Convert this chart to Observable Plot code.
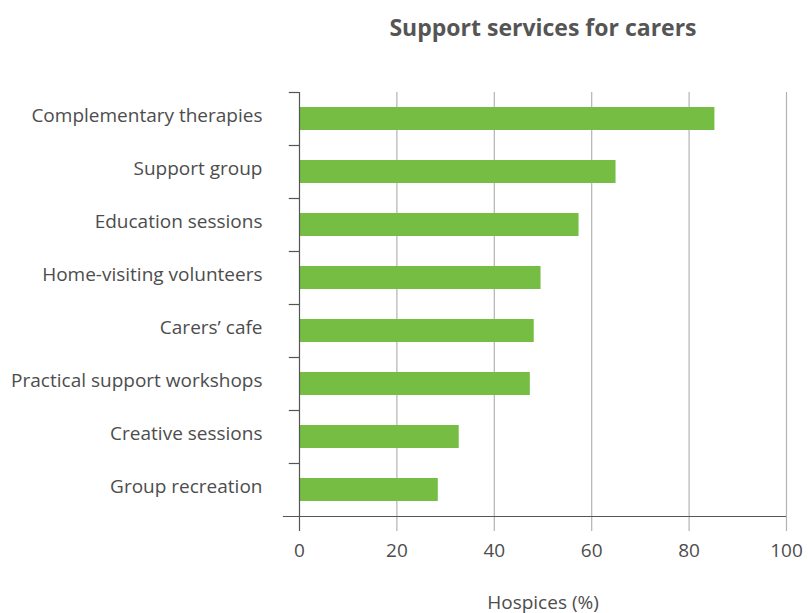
<!DOCTYPE html>
<html>
<head>
<meta charset="utf-8">
<script src="https://cdn.jsdelivr.net/npm/d3@7"></script>
<script src="https://cdn.jsdelivr.net/npm/@observablehq/plot@0.6"></script>
<style>
  html, body { margin: 0; padding: 0; background: #fff; }
</style>
</head>
<body>
<div id="chart"></div>
<script>
const title = "Support services for carers";
const categories = [
  "Complementary therapies",
  "Support group",
  "Education sessions",
  "Home-visiting volunteers",
  "Carers’ cafe",
  "Practical support workshops",
  "Creative sessions",
  "Group recreation"
];
const values = [85.3, 65, 57.4, 49.6, 48.2, 47.4, 32.8, 28.5];
const xTicks = [0, 20, 40, 60, 80, 100];
const xLabel = "Hospices (%)";

const data = categories.map((c, i) => ({category: c, value: values[i]}));
const textColor = "#4d4d4d";
const font = "Open Sans, sans-serif";

const chart = Plot.plot({
  width: 808,
  height: 613,
  marginTop: 92,
  marginBottom: 97,
  marginLeft: 299,
  marginRight: 22,
  style: {fontFamily: font, fontSize: "19px", color: textColor, background: "#fff"},
  x: {domain: [0, 100], ticks: xTicks},
  y: {domain: categories, padding: 0},
  marks: [
    Plot.ruleX(xTicks.filter(d => d > 0), {stroke: "#b3b3b3", strokeWidth: 1.2, insetBottom: -15}),
    Plot.barX(data, {y: "category", x: "value", fill: "#76be43", insetTop: 15, insetBottom: 15}),
    Plot.ruleY(categories, {y: d => d, x1: -2.1, x2: 0, dy: -26.5, stroke: "#555", strokeWidth: 1.2}),
    Plot.ruleY([0], {y: () => categories[categories.length - 1], x1: -3.3, x2: 100, dy: 26.5, stroke: "#555", strokeWidth: 1.2}),
    Plot.ruleX([0], {stroke: "#555", strokeWidth: 1.2, insetBottom: -15}),
    Plot.axisX({ticks: xTicks, tickSize: 0, tickPadding: 27, fontSize: 19, color: textColor, label: null}),
    Plot.axisY({tickSize: 0, tickPadding: 37, fontSize: 19, color: textColor, label: null, dy: -3}),
    Plot.text([xLabel], {frameAnchor: "bottom", dy: 92, fontSize: 19, fill: textColor}),
    Plot.text([title], {frameAnchor: "top", dy: -73, fontSize: 23, fontWeight: "bold", fill: "#555"})
  ]
});
document.getElementById("chart").appendChild(chart);
</script>
</body>
</html>
